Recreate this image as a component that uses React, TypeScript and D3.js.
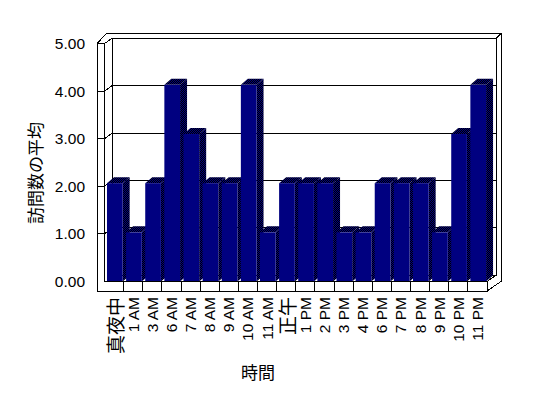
import React from 'react';
import * as d3 from 'd3';

// chart data
const categories = ['真夜中', '1 AM', '3 AM', '6 AM', '7 AM', '8 AM', '9 AM', '10 AM', '11 AM', '正午',
  '1 PM', '2 PM', '3 PM', '4 PM', '6 PM', '7 PM', '8 PM', '9 PM', '10 PM', '11 PM'];
const visits = [2, 1, 2, 4, 3, 2, 2, 4, 1, 2, 2, 2, 1, 1, 2, 2, 2, 1, 3, 4];
const yTicks = [0, 1, 2, 3, 4, 5];
const yTitle = '訪問数の平均';
const xTitle = '時間';

const NAVY = '#000080';
const FONT = '"Liberation Sans", Arial, "Noto Sans CJK JP", sans-serif';
const CJK = '"Noto Sans CJK JP", sans-serif';

export default function App() {
  // front face of the plot box
  const left = 97, inner = 104.5, right = 487;
  const floorTop = 281.5, floorBottom = 291;
  // back wall
  const backLeft = 112, backRight = 496, outerRight = 501.7, outerTop = 33;

  const x = d3.scaleBand<string>().domain(categories).range([inner, right]).padding(0);
  const yFront = d3.scaleLinear().domain([0, 5]).range([floorTop, 43.5]);
  const yBack = d3.scaleLinear().domain([0, 5]).range([275.2, 38.4]);
  const yBar = d3.scaleLinear().domain([0, 5]).range([floorTop, 35.7]);

  const step = x.step();
  const barOff = step * 0.13;
  const barW = step * 0.82;
  const dx = 7, dy = -6; // bar depth

  const hasCJK = (s: string) => /[\u3000-\u9fff]/.test(s);

  return (
    <svg width={548} height={398} style={{ position: 'absolute', left: 0, top: 0, background: '#fff' }}>
      <defs>
        <pattern id="dither" width={2} height={2} patternUnits="userSpaceOnUse">
          <rect width={2} height={2} fill="#000" />
          <rect x={0} y={0} width={1} height={1} fill={NAVY} />
          <rect x={1} y={1} width={1} height={1} fill={NAVY} />
        </pattern>
      </defs>

      <g fill="none" stroke="#000" strokeWidth={1} shapeRendering="crispEdges">
        {/* back wall */}
        <rect x={backLeft} y={yBack(5)} width={backRight - backLeft} height={yBack(0) - yBack(5)} fill="#fff" />
        {/* wall thickness: top and right */}
        <path d={`M${left},${yFront(5)} L107,${outerTop} L${outerRight},${outerTop} L${outerRight},281 L${right},${floorBottom}`} />
        <path d={`M${backRight},${yBack(5)} L${outerRight},${outerTop}`} />
        <path d={`M${right},${floorTop} L${backRight},${yBack(0)}`} />
        {/* left wall top */}
        <path d={`M${inner},${yFront(5)} L${backLeft},${yBack(5)}`} />
        {/* gridlines */}
        {yTicks.slice(1, 5).map(t => (
          <path key={t} d={`M${left},${yFront(t)} L${inner},${yFront(t)} L${backLeft},${yBack(t)} L${backRight},${yBack(t)}`} />
        ))}
      </g>

      {/* bars */}
      <g>
        {categories.map((c, i) => {
          const x0 = (x(c) as number) + barOff;
          const x1 = x0 + barW;
          const top = yBar(visits[i]);
          return (
            <g key={c}>
              <path d={`M${x1},${top} L${x1 + dx},${top + dy} L${x1 + dx},${floorTop + dy} L${x1},${floorTop} Z`} fill="url(#dither)" />
              <path d={`M${x0},${top} L${x1},${top} L${x1 + dx},${top + dy} L${x0 + dx},${top + dy} Z`} fill="url(#dither)" />
              <rect x={x0} y={top} width={barW} height={floorTop - top} fill={NAVY} />
            </g>
          );
        })}
      </g>

      {/* left wall and floor front faces */}
      <g stroke="#000" strokeWidth={1} shapeRendering="crispEdges">
        <path d={`M${left},${yFront(5)} L${inner},${yFront(5)} L${inner},${floorTop} L${right},${floorTop} L${right},${floorBottom} L${left},${floorBottom} Z`} fill="#fff" />
        {yTicks.slice(1, 5).map(t => (
          <line key={t} x1={left} x2={inner} y1={yFront(t)} y2={yFront(t)} />
        ))}
        {categories.slice(1).map(c => (
          <line key={c} x1={x(c)} x2={x(c)} y1={floorTop} y2={floorBottom} />
        ))}
      </g>

      {/* y tick labels */}
      <g fontFamily={FONT} fontSize={15.5} fill="#000" textAnchor="end">
        {yTicks.map(t => (
          <text key={t} x={85} y={yFront(t)} dominantBaseline="central">{t.toFixed(2)}</text>
        ))}
      </g>

      {/* category labels */}
      <g fill="#000" textAnchor="end">
        {categories.map(c => (
          <text key={c}
            transform={`translate(${(x(c) as number) + step / 2},297) rotate(-90)`}
            dominantBaseline="central"
            fontFamily={hasCJK(c) ? CJK : FONT}
            fontSize={hasCJK(c) ? 19 : 15.5}>{c}</text>
        ))}
      </g>

      {/* axis titles */}
      <text transform="translate(34,173) rotate(-90)" textAnchor="middle" dominantBaseline="central"
        fontFamily={CJK} fontSize={17} fill="#000">{yTitle}</text>
      <text x={258} y={371} textAnchor="middle" dominantBaseline="central"
        fontFamily={CJK} fontSize={17} fill="#000">{xTitle}</text>
    </svg>
  );
}
